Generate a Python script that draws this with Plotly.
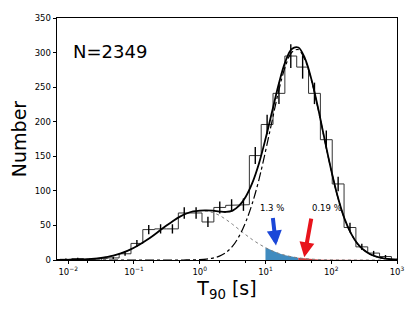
import numpy as np
import plotly.graph_objects as go

# ---- data ----
bin_edges_log = [-2.125, -1.945, -1.765, -1.585, -1.405, -1.225, -1.045, -0.865, -0.685, -0.505,
                 -0.325, -0.145, 0.035, 0.215, 0.395, 0.575, 0.755, 0.935, 1.115, 1.295,
                 1.475, 1.655, 1.835, 2.015, 2.195, 2.375, 2.555, 2.735, 2.915, 3.095]
counts = [1, 2, 1, 2, 3, 9, 24, 44, 45, 45, 68, 68, 55, 76, 79, 80, 151, 196, 241, 295,
          279, 241, 174, 110, 47, 19, 10, 5, 1]

curve_x_log = [-2.2, -2.1, -2.0, -1.9, -1.8, -1.7, -1.6, -1.5, -1.4, -1.3, -1.2, -1.1, -1.0,
               -0.9, -0.8, -0.7, -0.6, -0.5, -0.4, -0.3, -0.2, -0.1, 0.0, 0.1, 0.2, 0.3, 0.4,
               0.5, 0.6, 0.7, 0.8, 0.9, 1.0, 1.1, 1.2, 1.3, 1.4, 1.5, 1.6, 1.7, 1.8, 1.9, 2.0,
               2.1, 2.2, 2.3, 2.4, 2.5, 2.6, 2.7, 2.8, 2.9, 3.0]
short_fit = [0.09, 0.16, 0.27, 0.47, 0.79, 1.28, 2.03, 3.12, 4.67, 6.79, 9.61, 13.2, 17.7,
             23.1, 29.2, 35.9, 43.1, 50.2, 56.9, 62.7, 67.2, 70.0, 71.0, 70.5, 68.5, 64.5, 58.5,
             51.5, 44.0, 36.5, 29.5, 23.3, 17.9, 13.3, 9.7, 6.8, 4.7, 3.12, 2.03, 1.28, 0.79,
             0.47, 0.27, 0.16, 0.09, 0.05, 0.02, 0.01, 0, 0, 0, 0, 0]
long_fit = [0, 0, 0, 0, 0, 0, 0, 0, 0, 0, 0, 0, 0, 0, 0, 0, 0, 0, 0, 0,
            0.08, 0.22, 0.55, 1.3, 2.8, 5.6, 11.0, 20.0, 34.5, 55.0, 82.0, 116.0, 157.0, 201.0,
            244.2, 279.3, 300.5, 304.2, 289.7, 259.6, 218.8, 173.6, 129.5, 90.9, 60.1, 38.5,
            23.5, 14.0, 8.0, 4.4, 2.3, 1.1, 0.5]

x_tick_vals = [0.01, 0.1, 1, 10, 100, 1000]
x_tick_text = ["10<sup>\u22122</sup>", "10<sup>\u22121</sup>", "10<sup>0</sup>",
               "10<sup>1</sup>", "10<sup>2</sup>", "10<sup>3</sup>"]

n_text = "N=2349"
arrow_labels = ["1.3 %", "0.19 %"]
blue_from_log = 1.0
red_from_log = 1.5

# ---- derived ----
edges = np.array(bin_edges_log)
cnt = np.array(counts, dtype=float)
cx = np.array(curve_x_log)
sf = np.array(short_fit)
lf = np.array(long_fit)
tf = sf + lf

step_x, step_y = [edges[0]], [0.0]
for i, c in enumerate(cnt):
    step_x += [edges[i], edges[i + 1]]
    step_y += [c, c]
step_x.append(edges[-1])
step_y.append(0.0)
step_x = 10 ** np.array(step_x)

centers = 10 ** ((edges[:-1] + edges[1:]) / 2)
errs = np.sqrt(cnt)

fig = go.Figure()

mb = (cx >= blue_from_log - 1e-9) & (cx <= red_from_log + 1e-9)
fig.add_trace(go.Scatter(x=10 ** cx[mb], y=sf[mb], mode="lines", line=dict(width=0),
                         fill="tozeroy", fillcolor="rgba(31,119,180,0.85)", hoverinfo="skip"))
mr = cx >= red_from_log - 1e-9
fig.add_trace(go.Scatter(x=10 ** cx[mr], y=sf[mr], mode="lines", line=dict(width=0),
                         fill="tozeroy", fillcolor="rgba(200,40,40,0.9)", hoverinfo="skip"))

fig.add_trace(go.Scatter(x=step_x, y=step_y, mode="lines",
                         line=dict(color="#333333", width=1)))
fig.add_trace(go.Scatter(x=centers, y=cnt, mode="markers", marker=dict(size=0.1, color="black"),
                         error_y=dict(type="data", array=errs, width=0, thickness=1.4,
                                      color="black")))
fig.add_trace(go.Scatter(x=10 ** cx, y=sf, mode="lines", line_shape="spline",
                         line=dict(color="#808080", width=1, dash="dot")))
fig.add_trace(go.Scatter(x=10 ** cx, y=lf, mode="lines", line_shape="spline",
                         line=dict(color="black", width=1.2, dash="dashdot")))
fig.add_trace(go.Scatter(x=10 ** cx, y=tf, mode="lines", line_shape="spline",
                         line=dict(color="black", width=1.8)))

font = "DejaVu Sans"
annotations = [
    dict(x=0.04, y=0.86, xref="paper", yref="paper", text=n_text, showarrow=False,
         xanchor="left", yanchor="middle", font=dict(family=font, size=18, color="black")),
    dict(x=1.10, y=75, xref="x", yref="y", text=arrow_labels[0], showarrow=False,
         font=dict(family=font, size=8.5, color="black")),
    dict(x=1.93, y=75, xref="x", yref="y", text=arrow_labels[1], showarrow=False,
         font=dict(family=font, size=8.5, color="black")),
    dict(x=1.16, y=21, xref="x", yref="y", ax=1.11, ay=63, axref="x", ayref="y",
         text="", showarrow=True, arrowhead=2, arrowsize=0.75, arrowwidth=4,
         arrowcolor="#1b47d8", standoff=0),
    dict(x=1.59, y=4, xref="x", yref="y", ax=1.70, ay=62, axref="x", ayref="y",
         text="", showarrow=True, arrowhead=2, arrowsize=0.75, arrowwidth=4,
         arrowcolor="#e8141c", standoff=0),
]

# page body has an 8 px default margin, so the figure is offset by 8 px
fig.update_layout(
    width=407, height=303,
    margin=dict(l=44, r=18, t=5, b=51),
    paper_bgcolor="white", plot_bgcolor="white",
    showlegend=False,
    font=dict(family=font, size=8.5, color="black"),
    annotations=annotations,
)
fig.update_xaxes(type="log", range=[-2.17, 3.0], tickvals=x_tick_vals, ticktext=x_tick_text,
                 showgrid=False, zeroline=False, showline=True, mirror=True,
                 linecolor="black", linewidth=0.8, ticks="outside", ticklen=3.5,
                 tickwidth=0.8, tickcolor="black",
                 minor=dict(ticks="outside", ticklen=2, tickwidth=0.6, tickcolor="black",
                            showgrid=False),
                 title=dict(text="T<sub>90</sub> [s]", font=dict(family=font, size=19),
                            standoff=4))
fig.update_yaxes(range=[0, 350], dtick=50, showgrid=False, zeroline=False, showline=True,
                 mirror=True, linecolor="black", linewidth=0.8, ticks="outside", ticklen=3.5,
                 tickwidth=0.8, tickcolor="black",
                 title=dict(text="Number", font=dict(family=font, size=19), standoff=8))

fig.write_html("out.html")
